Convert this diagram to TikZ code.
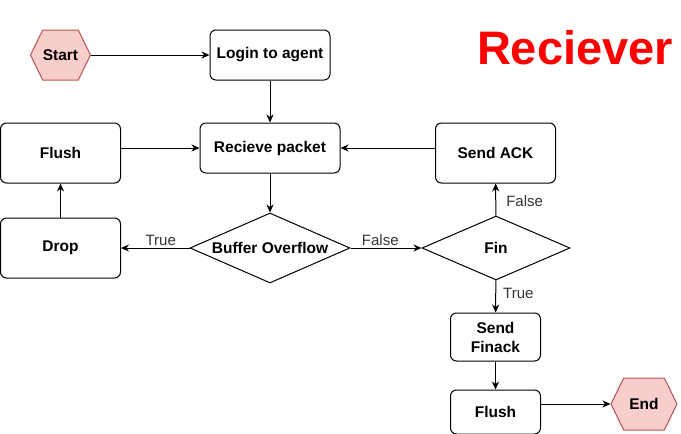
\documentclass[tikz,border=0pt]{standalone}
\usepackage{fontspec}
\setmainfont{Liberation Sans}
\usetikzlibrary{shapes.geometric,shapes.symbols,arrows.meta}
\begin{document}
\begin{tikzpicture}[
x=1pt, y=-1pt,
every node/.style={font=\fontsize{15}{17}\selectfont},
box/.style={rectangle, rounded corners=6pt, draw=black, line width=1pt, font=\fontsize{15.5}{19}\selectfont\bfseries, align=center, inner sep=0pt},
decision/.style={diamond, aspect=2.3, draw=black, line width=1pt, font=\fontsize{15.5}{19}\selectfont\bfseries, inner sep=0pt},
terminal/.style={signal, signal to=west and east, signal pointer angle=128, draw={rgb,255:red,184;green,84;blue,80}, fill={rgb,255:red,248;green,206;blue,204}, line width=1pt, font=\fontsize{15.5}{19}\selectfont\bfseries, inner sep=0pt},
flow/.style={-{Stealth[length=8pt,width=7pt]}, line width=1pt},
lbl/.style={text=black!80, inner sep=2pt},
]
\useasboundingbox (0,0) rectangle (681,434);
\node[terminal, minimum width=60pt, minimum height=50pt] (start) at (60.5,55) {Start};
\node[box, minimum width=120pt, minimum height=50pt] (login) at (270,55) {Login to agent};
\node[text=red, font=\fontsize{47}{50}\selectfont\bfseries] (title) at (575,48) {Reciever};
\node[box, minimum width=120pt, minimum height=60pt] (flushA) at (60.5,153) {Flush};
\node[box, minimum width=140pt, minimum height=50pt] (recv) at (270,148) {Recieve packet};
\node[box, minimum width=120pt, minimum height=60pt] (sendack) at (495.5,153) {Send ACK};
\node[box, minimum width=120pt, minimum height=60pt] (drop) at (60.5,248) {Drop};
\node[decision, minimum width=160pt, minimum height=70pt] (buf) at (270,248) {Buffer Overflow};
\node[decision, minimum width=148pt, minimum height=64pt] (fin) at (496,248) {Fin};
\node[box, minimum width=90pt, minimum height=48pt] (finack) at (495.5,337) {Send\\Finack};
\node[box, minimum width=90pt, minimum height=44pt] (flushB) at (495.5,412) {Flush};
\node[terminal, minimum width=66pt, minimum height=52pt] (end) at (644,404) {End};

\draw[flow] (start) -- (login);
\draw[flow] (login) -- (recv);
\draw[flow] (flushA.east |- recv.west) -- (recv.west);
\draw[flow] (sendack.west |- recv.east) -- (recv.east);
\draw[flow] (recv) -- (buf);
\draw[flow] (buf) -- node[lbl, above, pos=0.42] {True} (drop);
\draw[flow] (drop) -- (flushA);
\draw[flow] (buf) -- node[lbl, above, pos=0.42] {False} (fin);
\draw[flow] (fin) -- node[lbl, right, pos=0.45, xshift=8pt] {False} (sendack);
\draw[flow] (fin) -- node[lbl, right, pos=0.4, xshift=5pt] {True} (finack);
\draw[flow] (finack) -- (flushB);
\draw[flow] (flushB.east |- end.west) -- (end.west);
\end{tikzpicture}
\end{document}
